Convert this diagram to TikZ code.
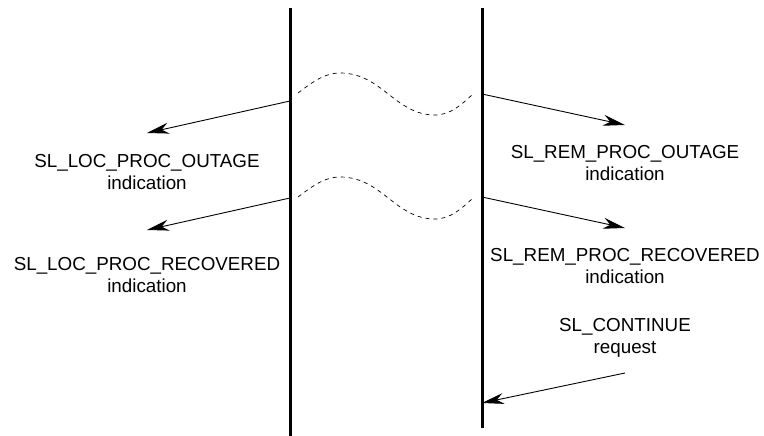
\documentclass[tikz,border=0pt]{standalone}
\usepackage{fontspec}
\setmainfont{Liberation Sans}
\usetikzlibrary{arrows.meta}
\begin{document}
\begin{tikzpicture}[x=1pt,y=-1pt,
  lifeline/.style={line width=3pt},
  msg/.style={line width=0.9pt,-{Stealth[length=22pt,width=11pt,inset=7pt]}},
  gap/.style={line width=0.7pt,dash pattern=on 4pt off 4pt},
  lbl/.style={align=center,inner sep=0pt,font=\fontsize{18.8}{22.5}\selectfont}]
\useasboundingbox (0,0) rectangle (764,436);
% lifelines
\coordinate (Ltop) at (290,8);
\coordinate (Lbot) at (290,436);
\coordinate (Rtop) at (482,8);
\coordinate (Rbot) at (482,428);
\draw[lifeline] (Ltop) -- (Lbot);
\draw[lifeline] (Rtop) -- (Rbot);
% message endpoints
\coordinate (a1s) at (290,101);
\coordinate (a1e) at (147,133);
\coordinate (a2s) at (290,198);
\coordinate (a2e) at (147,230);
\coordinate (b1s) at (482,94);
\coordinate (b1e) at (625,125);
\coordinate (b2s) at (482,197);
\coordinate (b2e) at (625,228);
\coordinate (cs) at (625,373);
\coordinate (ce) at (482,403);
\draw[msg] (a1s) -- (a1e);
\draw[msg] (a2s) -- (a2e);
\draw[msg] (b1s) -- (b1e);
\draw[msg] (b2s) -- (b2e);
\draw[msg] (cs) -- (ce);
% dashed gaps
\draw[gap] (298,93) .. controls (315,80) and (326,73) .. (340,73)
  .. controls (382,73) and (395,115) .. (435,115)
  .. controls (451,115) and (462,104) .. (473,94);
\draw[gap] (298,197) .. controls (315,184) and (326,177) .. (340,177)
  .. controls (382,177) and (395,219) .. (435,219)
  .. controls (451,219) and (462,208) .. (473,198);
% labels
\node[lbl] (t1) at (147,172) {SL\_LOC\_PROC\_OUTAGE\\indication};
\node[lbl] (t2) at (147,275) {SL\_LOC\_PROC\_RECOVERED\\indication};
\node[lbl] (t3) at (625,163) {SL\_REM\_PROC\_OUTAGE\\indication};
\node[lbl] (t4) at (625,266) {SL\_REM\_PROC\_RECOVERED\\indication};
\node[lbl] (t5) at (625,338) {SL\_CONTINUE\\request};
\end{tikzpicture}
\end{document}
